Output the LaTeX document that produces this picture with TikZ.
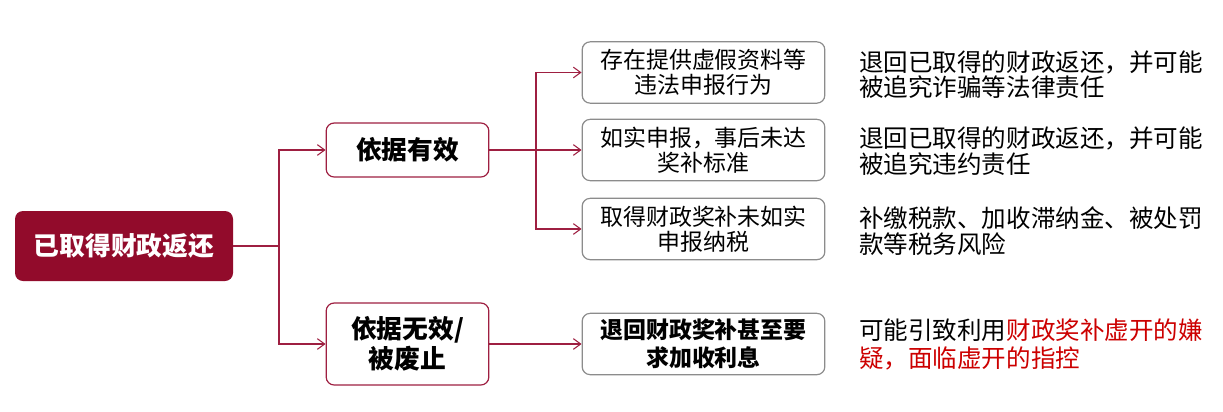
\documentclass[tikz,border=0pt]{standalone}
\usepackage{fontspec}
\usepackage{xcolor}
\usepackage{tikz}
\usetikzlibrary{arrows.meta}
\setmainfont{Noto Sans CJK SC}

\definecolor{wine}{RGB}{146,11,43}
\definecolor{linkred}{RGB}{158,31,65}
\definecolor{boxgray}{RGB}{140,140,140}
\definecolor{tred}{RGB}{204,0,0}

\begin{document}
\begin{tikzpicture}[x=0.75pt,y=-0.75pt,>={Straight Barb[length=5.5pt,width=8pt]},
  root node/.style={rectangle,rounded corners=6pt,fill=wine,text=white,minimum width=163.5pt,minimum height=52.5pt,font=\fontsize{19.3}{22}\selectfont\bfseries},
  mid node/.style={rectangle,rounded corners=6pt,draw=linkred,line width=0.9pt,fill=white,minimum width=122pt,align=center,font=\fontsize{19.3}{22.5}\selectfont\bfseries},
  leaf node/.style={rectangle,rounded corners=6pt,draw=boxgray,line width=0.9pt,fill=white,minimum width=182pt,minimum height=46pt,align=center,inner sep=1pt,font=\fontsize{17.2}{19}\selectfont},
  note node/.style={anchor=west,align=left,inner sep=0pt,font=\fontsize{18.4}{19}\selectfont},
  link/.style={draw=linkred,line width=0.8pt}]
        \useasboundingbox (0,0) rectangle (1223,411);
        \node[root node] (0) at (124,246) {已取得财政返还};
        \node[mid node,minimum height=40.5pt] (1) at (407.5,150) {依据有效};
        \node[mid node,minimum height=61.5pt] (2) at (407.5,344) {依据无效/\\被废止};
        \node[leaf node] (11) at (703.5,72.5) {存在提供虚假资料等\\违法申报行为};
        \node[leaf node] (12) at (703.5,150) {如实申报，事后未达\\奖补标准};
        \node[leaf node] (13) at (703.5,229) {取得财政奖补未如实\\申报纳税};
        \node[leaf node,font=\fontsize{17.2}{21}\selectfont\bfseries] (21) at (703.5,344) {退回财政奖补甚至要\\求加收利息};
        \node[note node] (t11) at (859,74.5) {退回已取得的财政返还，并可能\\被追究诈骗等法律责任};
        \node[note node] (t12) at (859,151) {退回已取得的财政返还，并可能\\被追究违约责任};
        \node[note node] (t13) at (859,231) {补缴税款、加收滞纳金、被处罚\\款等税务风险};
        \node[note node,font=\fontsize{18.4}{21}\selectfont] (t21) at (859,344) {可能引致利用{\color{tred}财政奖补虚开的嫌}\\{\color{tred}疑，面临虚开的指控}};
        \coordinate (trunk) at (279,246);
        \coordinate (fork) at (536,150);
        \draw[link] (0.east) -- (trunk);
        \draw[link,->] (trunk) |- (1.west);
        \draw[link,->] (trunk) |- (2.west);
        \draw[link] (1.east) -- (fork);
        \draw[link,->] (fork) |- (11.west);
        \draw[link,->] (fork) -- (12.west);
        \draw[link,->] (fork) |- (13.west);
        \draw[link,->] (2.east) -- (21.west);
      \end{tikzpicture}
\end{document}
